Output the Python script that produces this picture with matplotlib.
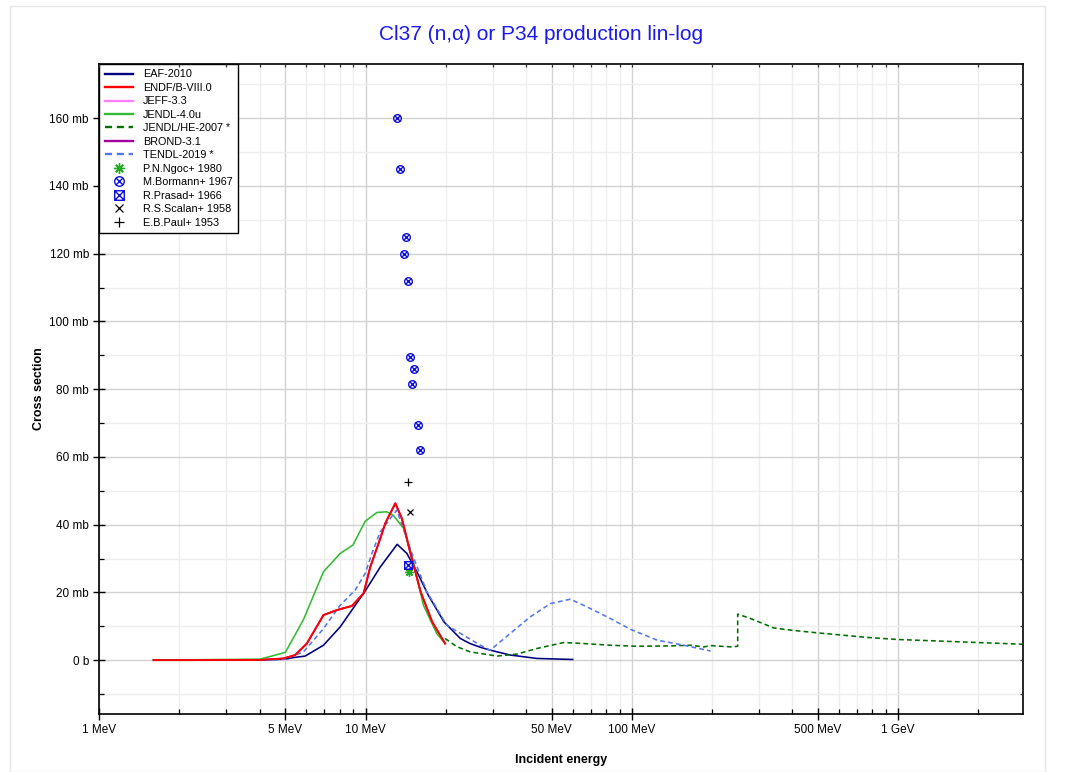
import matplotlib
matplotlib.use("Agg")
import matplotlib.pyplot as plt
from matplotlib.path import Path
from matplotlib.patches import Rectangle
from matplotlib.ticker import FixedLocator, FixedFormatter, NullFormatter
import numpy as np

plt.rcParams['font.family'] = ['Liberation Sans', 'DejaVu Sans']

# ---------------- data ----------------
eaf_e = [1.6, 4.0, 5.0, 5.4, 5.93, 6.95, 8.03, 9.15, 9.97, 11.36, 13.15, 14.3, 15.6, 17.2, 19.7, 22.7, 24.7, 27.0, 29.4, 35.0, 44.1, 60.0]
eaf_y = [0.0, 0.05, 0.3, 0.8, 1.2, 4.4, 9.8, 16.2, 20.4, 27.5, 34.2, 31.5, 26.1, 19.2, 11.3, 6.4, 4.9, 3.8, 2.95, 1.5, 0.5, 0.2]

endf_e = [1.6, 4.0, 4.92, 5.44, 6.02, 6.95, 7.81, 8.89, 9.83, 10.42, 11.36, 11.86, 12.94, 13.7, 14.7, 16.1, 17.8, 19.9]
endf_y = [0.0, 0.05, 0.5, 1.5, 4.9, 13.3, 14.8, 16.0, 19.7, 27.5, 35.9, 40.4, 46.3, 41.8, 32.0, 20.2, 11.3, 4.9]

jeff_e = list(endf_e)
jeff_y = list(endf_y)
brond_e = list(endf_e)
brond_y = list(endf_y)

jendl4_e = [1.6, 4.02, 5.0, 5.85, 6.95, 8.03, 8.97, 9.97, 11.04, 12.0, 12.7, 13.9, 15.1, 16.5, 18.5, 19.9]
jendl4_y = [0.0, 0.3, 2.3, 12.0, 26.1, 31.5, 34.0, 41.0, 43.6, 43.8, 42.8, 38.9, 29.3, 16.2, 7.9, 4.9]

jendlhe_e = [19.9, 22.0, 24.7, 31.2, 37.1, 44.1, 55.5, 66.0, 83.1, 104.8, 139.7, 166.0, 186.6, 197.7, 238.0, 250.0, 250.0, 279.0, 342.0, 395.0, 498.0, 768.0, 995.0, 1366.0, 1990.0, 2936.0]
jendlhe_y = [6.4, 4.0, 2.45, 1.2, 1.8, 3.45, 5.2, 4.9, 4.4, 4.1, 4.2, 4.4, 3.9, 4.3, 3.9, 4.1, 13.6, 12.3, 9.5, 8.86, 8.06, 6.7, 6.1, 5.7, 5.2, 4.7]

tendl_e = [1.6, 4.5, 5.0, 5.85, 6.95, 8.03, 9.15, 9.97, 10.57, 11.36, 13.1, 15.1, 17.0, 20.2, 27.0, 29.4, 35.0, 41.6, 49.5, 58.8, 68.0, 83.1, 98.9, 124.6, 156.8, 197.7]
tendl_y = [0.0, 0.05, 0.3, 2.45, 9.3, 16.2, 20.7, 25.6, 31.5, 37.9, 44.3, 30.5, 20.2, 10.3, 4.4, 2.95, 7.9, 12.8, 16.7, 18.0, 15.7, 12.3, 9.1, 5.9, 4.4, 2.7]

ngoc_e = [14.6]
ngoc_y = [26.1]
bormann_e = [13.13, 13.42, 14.19, 13.89, 14.47, 14.68, 15.2, 14.94, 15.74, 16.02]
bormann_y = [160.0, 144.9, 125.0, 119.9, 111.9, 89.4, 86.0, 81.5, 69.3, 62.0]
prasad_e = [14.5]
prasad_y = [28.0]
scalan_e = [14.7]
scalan_y = [43.6]
paul_e = [14.4]
paul_y = [52.5]

x_ticks = [1, 5, 10, 50, 100, 500, 1000]
x_tick_labels = ['1 MeV', '5 MeV', '10 MeV', '50 MeV', '100 MeV', '500 MeV', '1 GeV']
y_ticks = [0, 20, 40, 60, 80, 100, 120, 140, 160]
y_tick_labels = ['0 b', '20 mb', '40 mb', '60 mb', '80 mb', '100 mb', '120 mb', '140 mb', '160 mb']

# ---------------- markers ----------------
circ = Path.unit_circle()
d = np.sqrt(0.5)
diag1 = Path([(-d, -d), (d, d)], [Path.MOVETO, Path.LINETO])
diag2 = Path([(-d, d), (d, -d)], [Path.MOVETO, Path.LINETO])
circ_x = Path.make_compound_path(circ, diag1, diag2)
sq = Path([(-1, -1), (1, -1), (1, 1), (-1, 1), (-1, -1)],
          [Path.MOVETO, Path.LINETO, Path.LINETO, Path.LINETO, Path.CLOSEPOLY])
sd1 = Path([(-1, -1), (1, 1)], [Path.MOVETO, Path.LINETO])
sd2 = Path([(-1, 1), (1, -1)], [Path.MOVETO, Path.LINETO])
sq_x = Path.make_compound_path(sq, sd1, sd2)

# ---------------- figure ----------------
fig = plt.figure(figsize=(10.67, 7.72), dpi=100)
fig.patches.append(Rectangle((10 / 1067, 0), 1035 / 1067, 1 - 6 / 772, transform=fig.transFigure,
                             fill=False, edgecolor='#e6e6e6', linewidth=1.0))
pos = [99.3 / 1067, 1 - 714 / 772, (1022.5 - 99.3) / 1067, (714 - 64) / 772]
ax = fig.add_axes(pos)

ax.set_xscale('log')
ax.set_xlim(1.0, 2936.0)
ax.set_ylim(-15.9, 176.0)

lw = 1.15
ax.plot(jeff_e, jeff_y, color='#ff80ff', lw=lw, zorder=2, label='JEFF-3.3')
ax.plot(brond_e, brond_y, color='#a000a0', lw=lw, zorder=2, label='BROND-3.1')
ax.plot(eaf_e, eaf_y, color='#000080', lw=lw, zorder=3, label='EAF-2010')
ax.plot(endf_e, endf_y, color='#ff0000', lw=1.4, zorder=4, label='ENDF/B-VIII.0')
ax.plot(jendl4_e, jendl4_y, color='#33bb33', lw=lw, zorder=3, label='JENDL-4.0u')
ax.plot(jendlhe_e, jendlhe_y, color='#007000', lw=lw, ls=(0, (3, 2)), zorder=3, label='JENDL/HE-2007 *')
ax.plot(tendl_e, tendl_y, color='#5577ee', lw=lw, ls=(0, (3, 2)), zorder=3, label='TENDL-2019 *')

ax.plot(ngoc_e, ngoc_y, ls='none', marker=(8, 2, 0), ms=6, mec='#22aa22', mew=1.0, zorder=5, label='P.N.Ngoc+ 1980')
ax.plot(bormann_e, bormann_y, ls='none', marker=circ_x, ms=5.5, mfc='none', mec='#1010dd', mew=1.0, zorder=5, label='M.Bormann+ 1967')
ax.plot(prasad_e, prasad_y, ls='none', marker=sq_x, ms=5.5, mfc='none', mec='#1010dd', mew=1.0, zorder=5, label='R.Prasad+ 1966')
ax.plot(scalan_e, scalan_y, ls='none', marker='x', ms=4.5, mec='black', mew=0.9, zorder=5, label='R.S.Scalan+ 1958')
ax.plot(paul_e, paul_y, ls='none', marker='+', ms=6, mec='black', mew=0.9, zorder=5, label='E.B.Paul+ 1953')

# ticks / grid
minor_x = [m * 10 ** k for k in range(0, 4) for m in range(2, 10) if m != 5 and m * 10 ** k < 2936]
minor_y = [-10, 10, 30, 50, 70, 90, 110, 130, 150, 170]


def set_locators(a):
    a.xaxis.set_major_locator(FixedLocator(x_ticks))
    a.xaxis.set_minor_locator(FixedLocator(minor_x))
    a.xaxis.set_minor_formatter(NullFormatter())
    a.yaxis.set_major_locator(FixedLocator(y_ticks))
    a.yaxis.set_minor_locator(FixedLocator(minor_y))


set_locators(ax)
ax.xaxis.set_major_formatter(FixedFormatter(x_tick_labels))
ax.yaxis.set_major_formatter(FixedFormatter(y_tick_labels))

ax.grid(True, which='major', color='#d2d2d2', lw=1.0, zorder=0)
ax.grid(True, which='minor', color='#eeeeee', lw=1.0, zorder=0)
ax.set_axisbelow(True)

ax.tick_params(which='major', direction='inout', length=8, width=1.0, labelsize=8.5,
               top=False, right=False, colors='black')
ax.tick_params(which='minor', direction='in', length=3.5, width=0.9, top=False, right=False)
ax.tick_params(axis='x', which='major', pad=3)
for s in ax.spines.values():
    s.set_linewidth(1.2)
    s.set_color('black')

# overlay axes for the small inward ticks on top and right
ax2 = fig.add_axes(pos, frameon=False)
ax2.set_xscale('log')
ax2.set_xlim(ax.get_xlim())
ax2.set_ylim(ax.get_ylim())
set_locators(ax2)
ax2.tick_params(which='both', direction='in', length=2.5, width=0.9, top=True, right=True,
                left=False, bottom=False, labelleft=False, labelbottom=False,
                labeltop=False, labelright=False, color='#333333')

ax.set_xlabel('Incident energy', fontsize=9, fontweight='bold', labelpad=13)
ax.set_ylabel('Cross section', fontsize=9, fontweight='bold', labelpad=3)

fig.text(541 / 1067, 1 - 34 / 772, 'Cl37 (n,\u03b1) or P34 production lin-log', color='#1a1aee',
         fontsize=15, ha='center', va='center')

# legend in reference order
handles, labels = ax.get_legend_handles_labels()
order = ['EAF-2010', 'ENDF/B-VIII.0', 'JEFF-3.3', 'JENDL-4.0u', 'JENDL/HE-2007 *', 'BROND-3.1',
         'TENDL-2019 *', 'P.N.Ngoc+ 1980', 'M.Bormann+ 1967', 'R.Prasad+ 1966', 'R.S.Scalan+ 1958',
         'E.B.Paul+ 1953']
hmap = dict(zip(labels, handles))
leg = ax.legend([hmap[o] for o in order], order, loc='upper left', bbox_to_anchor=(0, 1),
                borderaxespad=0, fontsize=7.8, frameon=True, fancybox=False, framealpha=1,
                edgecolor='black', labelspacing=0.32, handlelength=2.6, handletextpad=0.9,
                borderpad=0.5, markerscale=1.25)
leg.get_frame().set_linewidth(1.0)
leg.set_zorder(10)
for ln in leg.get_lines():
    if ln.get_linestyle() not in ('None', 'none', ''):
        ln.set_linewidth(1.7)

fig.savefig('out.png', dpi=100)
